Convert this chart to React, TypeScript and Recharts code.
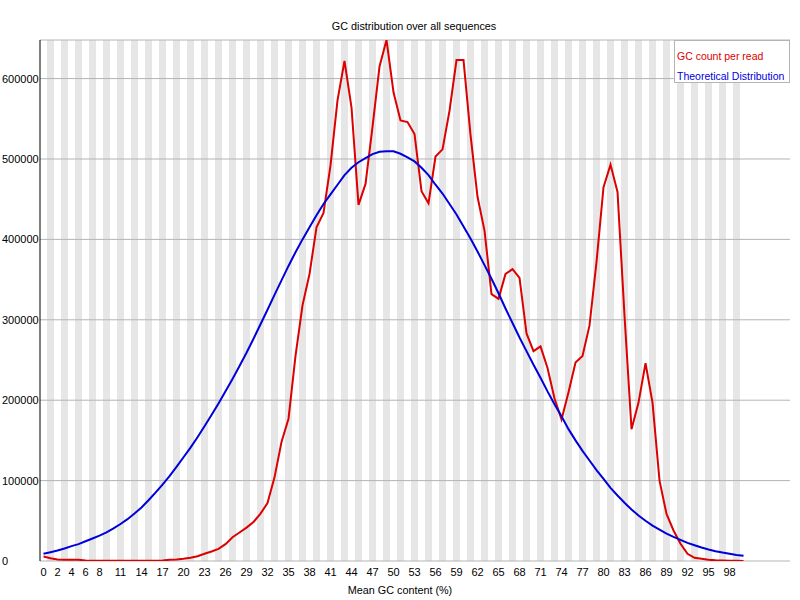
import {
  ComposedChart,
  Line,
  XAxis,
  YAxis,
  CartesianGrid,
  ReferenceArea,
  Legend,
} from 'recharts';

// GC count per read, one value per GC % (0..100)
const gcCount = [
  5500, 3500, 2000, 1500, 1500, 1500, 600, 300, 300, 300,
  300, 300, 300, 300, 300, 300, 400, 600, 1500, 2000,
  2800, 4000, 6000, 9000, 11800, 15000, 21000, 29500, 35500, 41500,
  48500, 59000, 72000, 104000, 148000, 177000, 255000, 318000, 357000, 415000,
  433000, 492000, 573000, 622000, 564000, 443000, 469000, 540000, 615000, 648000,
  583000, 548000, 546000, 531000, 460000, 445000, 503000, 512000, 560000, 623000,
  623000, 530000, 453000, 411000, 332000, 326000, 357000, 363000, 352000, 283000,
  261000, 267000, 240000, 202000, 176000, 210000, 247000, 255000, 293000, 372000,
  465000, 493000, 459000, 305000, 164000, 197000, 246000, 197000, 100000, 58500,
  38000, 21500, 9000, 4000, 2700, 1500, 800, 500, 300, 200, 100,
];

const theoretical = [
  9000, 11000, 13000, 15500, 18500, 21000, 24500, 28000, 31500, 35500,
  40500, 46000, 52000, 59000, 66500, 75500, 85000, 95000, 105500, 117000,
  129000, 141000, 154000, 167500, 181500, 196000, 211000, 226500, 242500, 259000,
  276500, 294500, 312500, 331000, 349000, 367000, 384000, 400000, 415000, 430000,
  444000, 456000, 468000, 480000, 489000, 496000, 501000, 506000, 509000, 509500,
  509500, 506500, 502000, 497000, 489000, 480000, 468000, 457000, 444000, 431000,
  416000, 401000, 385000, 368000, 351000, 333000, 314000, 296000, 278000, 261000,
  244000, 228000, 211000, 195000, 180000, 164000, 150000, 137000, 125000, 113000,
  102000, 91000, 81500, 72500, 64000, 56500, 50000, 44000, 39000, 34000,
  30000, 26300, 22500, 19600, 16700, 14300, 12200, 10500, 9000, 7600, 6400,
];

const xTicks = [
  0, 2, 4, 6, 8, 11, 14, 17, 20, 23, 26, 29, 32, 35, 38, 41, 44, 47, 50,
  53, 56, 59, 62, 65, 68, 71, 74, 77, 80, 83, 86, 89, 92, 95, 98,
];
const yTicks = [0, 100000, 200000, 300000, 400000, 500000, 600000];

const RED = '#dc0000';
const BLUE = '#0000dc';
const FONT = '"Liberation Sans", Arial, sans-serif';

const data = gcCount.map((v, i) => ({ gc: i, count: v, theory: theoretical[i] }));
const bands = data.filter((d) => d.gc % 2 === 1).map((d) => d.gc);

const YTick = ({ y, payload }: any) => (
  <text x={2} y={y + 4} fontSize={11} fontFamily={FONT} fill="#000">
    {payload.value}
  </text>
);

const XTick = ({ x, payload }: any) => (
  <text x={x} y={576} textAnchor="middle" fontSize={11} fontFamily={FONT} fill="#000">
    {payload.value}
  </text>
);

const LegendBox = () => (
  <div
    style={{
      boxSizing: 'border-box',
      width: 116,
      height: 43,
      border: '1px solid #b4b4b4',
      background: '#fff',
      padding: '5px 0 0 2px',
      fontFamily: FONT,
      fontSize: 10.5,
      lineHeight: '20px',
      whiteSpace: 'nowrap',
    }}
  >
    <div style={{ color: RED }}>GC count per read</div>
    <div style={{ color: BLUE }}>Theoretical Distribution</div>
  </div>
);

const textStyle = {
  position: 'absolute' as const,
  fontFamily: FONT,
  fontSize: 10.8,
  lineHeight: '13px',
  whiteSpace: 'nowrap' as const,
  transform: 'translateX(-50%)',
  color: '#000',
};

export default function App() {
  return (
    <div style={{ position: 'absolute', left: 0, top: 0, width: 800, height: 600, background: '#fff' }}>
      <div style={{ ...textStyle, left: 414, top: 19.6 }}>GC distribution over all sequences</div>
      <ComposedChart
        width={800}
        height={600}
        data={data}
        margin={{ top: 40, right: 10, bottom: 0, left: 0 }}
      >
        {bands.map((b) => (
          <ReferenceArea
            key={b}
            x1={b - 0.5}
            x2={b + 0.5}
            y1={0}
            y2={648000}
            fill="#e6e6e6"
            fillOpacity={1}
            stroke="none"
            ifOverflow="hidden"
            zIndex={50}
          />
        ))}
        <CartesianGrid vertical={false} stroke="#b4b4b4" zIndex={150} />
        <XAxis
          dataKey="gc"
          type="number"
          domain={[-0.5, 106.64]}
          ticks={xTicks}
          interval={0}
          allowDataOverflow
          axisLine={false}
          tickLine={false}
          height={39}
          tick={XTick}
        />
        <YAxis
          type="number"
          domain={[0, 648000]}
          ticks={yTicks}
          interval={0}
          allowDataOverflow
          axisLine={{ stroke: '#000' }}
          tickLine={false}
          width={40}
          tick={YTick}
        />
        <Line
          type="linear"
          dataKey="count"
          name="GC count per read"
          stroke={RED}
          strokeWidth={2}
          dot={false}
          activeDot={false}
          isAnimationActive={false}
        />
        <Line
          type="linear"
          dataKey="theory"
          name="Theoretical Distribution"
          stroke={BLUE}
          strokeWidth={2}
          dot={false}
          activeDot={false}
          isAnimationActive={false}
        />
        <Legend
          content={LegendBox}
          layout="horizontal"
          verticalAlign="middle"
          align="center"
          wrapperStyle={{ left: 674, top: 40, width: 116, height: 43 }}
        />
      </ComposedChart>
      <div style={{ ...textStyle, left: 400, top: 583.6 }}>Mean GC content (%)</div>
    </div>
  );
}
